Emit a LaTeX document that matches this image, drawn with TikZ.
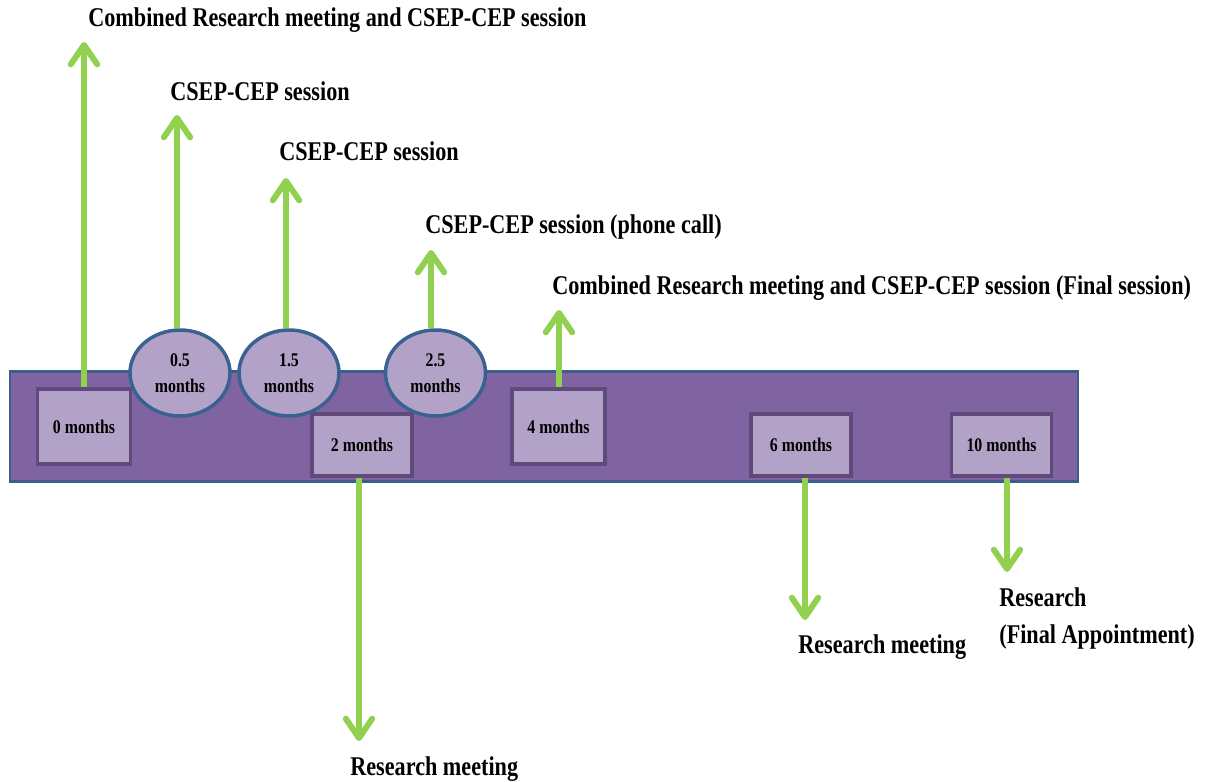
\documentclass[tikz,border=0pt]{standalone}
\usepackage{fontspec}
\setmainfont{Liberation Serif}[FakeStretch=0.82]
\usetikzlibrary{arrows.meta,shapes.geometric}
\definecolor{arrowgreen}{HTML}{92D050}
\definecolor{barpurple}{HTML}{8064A2}
\definecolor{barblue}{HTML}{3B5E8C}
\definecolor{boxfill}{HTML}{B3A2C7}
\definecolor{boxline}{HTML}{604A7B}
\definecolor{ovalline}{HTML}{3B6190}
\begin{document}
\begin{tikzpicture}[x=0.02cm, y=-0.02cm,
    month/.style={draw=boxline, line width=2pt, fill=boxfill, inner sep=0pt, font=\fontsize{11pt}{14pt}\selectfont\bfseries},
    halfmonth/.style={ellipse, draw=ovalline, line width=2pt, fill=boxfill, minimum width=2cm, minimum height=1.72cm, inner sep=0pt, align=center, font=\fontsize{11pt}{14.5pt}\selectfont\bfseries},
    note/.style={anchor=base west, inner sep=0pt, font=\fontsize{15.4pt}{21pt}\selectfont\bfseries},
    arr/.style={draw=arrowgreen, line width=3.4pt, -{Straight Barb[length=11pt,width=15pt,round]}}]
  \useasboundingbox (0,0) rectangle (1212,781);
  \node[draw=barblue, line width=1.5pt, fill=barpurple, minimum width=21.36cm, minimum height=2.2cm] (bar) at (544,426.5) {};
  \node[month, minimum width=1.86cm, minimum height=1.5cm] (m0) at (84,426.5) {0 months};
  \node[month, minimum width=1.86cm, minimum height=1.5cm] (m4) at (558.5,426.5) {4 months};
  \node[month, minimum width=2.0cm, minimum height=1.24cm] (m2) at (362,445) {2 months};
  \node[month, minimum width=2.0cm, minimum height=1.24cm] (m6) at (801,445) {6 months};
  \node[month, minimum width=2.0cm, minimum height=1.24cm] (m10) at (1001.5,445) {10 months};
  \node[halfmonth] (h05) at (180,373) {0.5\\months};
  \node[halfmonth] (h15) at (289,373) {1.5\\months};
  \node[halfmonth] (h25) at (435.5,373) {2.5\\months};
  \coordinate (t0) at (84,42);
  \coordinate (t05) at (177,115);
  \coordinate (t15) at (286,178);
  \coordinate (t25) at (431,250);
  \coordinate (t4) at (559,310);
  \coordinate (t2) at (359,741);
  \coordinate (t6) at (805,620);
  \coordinate (t10) at (1007,572);
  \node[note] (n0) at (88,27) {Combined Research meeting and CSEP-CEP session};
  \node[note] (n05) at (170,100) {CSEP-CEP session};
  \node[note] (n15) at (279,160) {CSEP-CEP session};
  \node[note] (n25) at (425,233) {CSEP-CEP session (phone call)};
  \node[note] (n4) at (552,294) {Combined Research meeting and CSEP-CEP session (Final session)};
  \node[note] (n2) at (350,775) {Research meeting};
  \node[note] (n6) at (798,653) {Research meeting};
  \node[note, anchor=north west, align=left] (n10) at (999,587) {Research\\(Final Appointment)};
  \draw[arr] (m0.north) -- (t0);
  \draw[arr] (h05.north -| t05) -- (t05);
  \draw[arr] (h15.north -| t15) -- (t15);
  \draw[arr] (h25.north -| t25) -- (t25);
  \draw[arr] (m4.north -| t4) -- (t4);
  \draw[arr] (m2.south -| t2) -- (t2);
  \draw[arr] (m6.south -| t6) -- (t6);
  \draw[arr] (m10.south -| t10) -- (t10);
\end{tikzpicture}
\end{document}
